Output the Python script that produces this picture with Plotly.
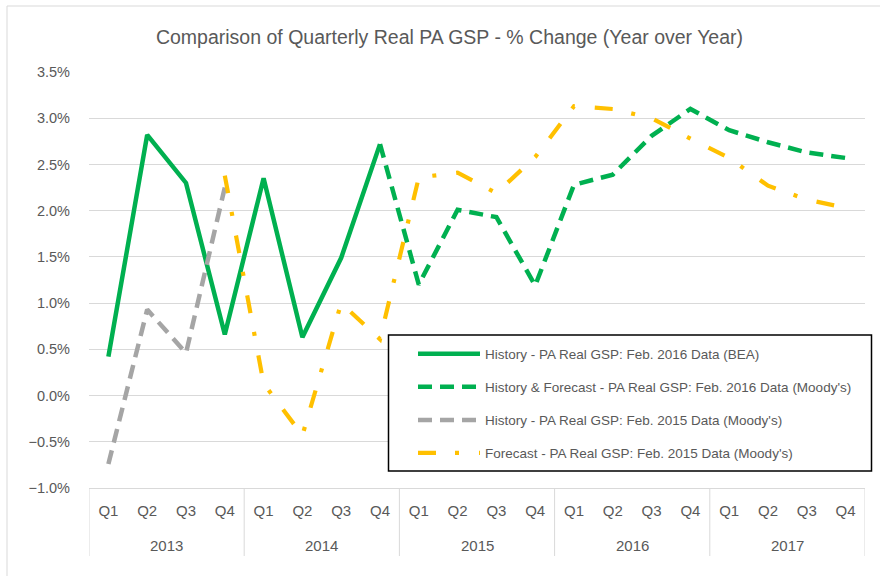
import plotly.graph_objects as go

years = ["2013", "2014", "2015", "2016", "2017"]
quarters = ["Q1", "Q2", "Q3", "Q4"]
categories = [f"{y} {q}" for y in years for q in quarters]
quarter_labels = [q for _ in years for q in quarters]

# values in percent, None where the series has no value
hist_bea_2016 = [0.42, 2.82, 2.30, 0.66, 2.35, 0.63, 1.49, 2.72,
                 None, None, None, None, None, None, None, None, None, None, None, None]
hist_fc_moodys_2016 = [None, None, None, None, None, None, None, 2.72,
                       1.20, 2.01, 1.93, 1.19, 2.28, 2.39, 2.81, 3.10, 2.87, 2.74, 2.63, 2.57]
hist_moodys_2015 = [-0.74, 0.93, 0.46, 2.25,
                    None, None, None, None, None, None, None, None, None, None, None, None, None, None, None, None]
fc_moodys_2015 = [None, None, None, 2.38, 0.13, -0.43, 1.00, 0.61,
                  2.36, 2.41, 2.19, 2.58, 3.13, 3.10, 3.00, 2.78, 2.57, 2.27, 2.12, 2.03]

names = [
    "History - PA Real GSP: Feb. 2016 Data (BEA)",
    "History & Forecast - PA Real GSP: Feb. 2016 Data (Moody's)",
    "History - PA Real GSP: Feb. 2015 Data (Moody's)",
    "Forecast - PA Real GSP: Feb. 2015 Data (Moody's)",
]

GREEN = "#00B050"
GRAY = "#A5A5A5"
YELLOW = "#FFC000"
TEXT = "#595959"
GRID = "#D9D9D9"
FONT = "Liberation Sans, Arial, sans-serif"

fig = go.Figure()
fig.add_trace(go.Scatter(x=categories, y=hist_bea_2016, mode="lines", name=names[0], legendgroup="a",
                         line=dict(color=GREEN, width=4.5)))
fig.add_trace(go.Scatter(x=categories, y=hist_fc_moodys_2016, mode="lines", name=names[1], legendgroup="b",
                         line=dict(color=GREEN, width=4.5, dash="14px,8px")))
fig.add_trace(go.Scatter(x=categories, y=hist_moodys_2015, mode="lines", name=names[2], legendgroup="c",
                         line=dict(color=GRAY, width=4.5, dash="14px,8px")))
fig.add_trace(go.Scatter(x=categories, y=fc_moodys_2015, mode="lines", name=names[3], legendgroup="d",
                         line=dict(color=YELLOW, width=4.2, dash="18px,19px,4px,20px")))

L, R, T, B = 89, 15, 72, 88
W, H = 880, 576
pw, ph = W - L - R, H - T - B

def px_x(p):
    return (p - L) / pw

def px_y(p):
    return (H - B - p) / ph

shapes = [
    # chart border
    dict(type="rect", xref="paper", yref="paper",
         x0=px_x(7), x1=px_x(W + 10), y0=px_y(H + 10), y1=px_y(6),
         line=dict(color=GRID, width=1), fillcolor="rgba(0,0,0,0)", layer="below"),
    # legend box
    dict(type="rect", xref="paper", yref="paper",
         x0=px_x(388.5), x1=px_x(871.5), y0=px_y(471), y1=px_y(335),
         line=dict(color="black", width=1.5), fillcolor="white", layer="above"),
]
# year group dividers below the category axis
for i in range(len(years) + 1):
    xv = -0.5 + len(quarters) * i
    shapes.append(dict(type="line", xref="x", yref="paper", x0=xv, x1=xv,
                       y0=0, y1=px_y(556), line=dict(color=GRID, width=1)))

annotations = []
for i, y in enumerate(years):
    annotations.append(dict(x=(len(quarters) - 1) / 2 + len(quarters) * i, y=px_y(545),
                            xref="x", yref="paper", text=y, showarrow=False,
                            xanchor="center", yanchor="middle",
                            font=dict(size=15, color=TEXT, family=FONT)))

fig.update_layout(
    width=W, height=H,
    margin=dict(l=L, r=R, t=T, b=B),
    paper_bgcolor="white", plot_bgcolor="white",
    font=dict(family=FONT, color=TEXT, size=15),
    title=dict(text="Comparison of Quarterly Real PA GSP - % Change (Year over Year)",
               x=449.5 / W, xanchor="center", y=1 - 37 / H, yanchor="middle",
               font=dict(size=19.5, color=TEXT, family=FONT)),
    showlegend=True,
    legend=dict(x=px_x(413), y=px_y(338.5), xanchor="left", yanchor="top",
                bgcolor="rgba(0,0,0,0)", borderwidth=0,
                font=dict(size=13.5, color=TEXT, family=FONT),
                tracegroupgap=12.5, itemwidth=62),
    xaxis=dict(type="category", categoryorder="array", categoryarray=categories,
               range=[-0.5, len(categories) - 0.5],
               tickvals=categories, ticktext=quarter_labels,
               showgrid=False, showline=True, linecolor=GRID, linewidth=1,
               ticks="", ticklabelstandoff=9,
               tickfont=dict(size=15, color=TEXT, family=FONT)),
    yaxis=dict(range=[-1.0, 3.5], dtick=0.5, tick0=0, tickformat=".1f", ticksuffix="%",
               showgrid=True, gridcolor=GRID, gridwidth=1, zeroline=False, showline=False,
               ticks="", ticklabelstandoff=18,
               tickfont=dict(size=14.5, color=TEXT, family=FONT)),
    shapes=shapes,
    annotations=annotations,
)

fig.write_html("out.html", config={"displayModeBar": False},
               post_script="document.body.style.margin='0';")
